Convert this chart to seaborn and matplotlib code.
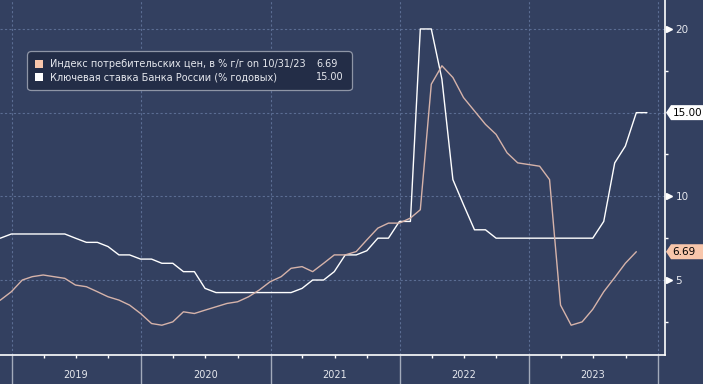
import matplotlib
matplotlib.use("Agg")
import matplotlib.pyplot as plt
import matplotlib.dates as mdates
import matplotlib.transforms as mtransforms
from matplotlib.patches import Patch, Polygon
from matplotlib.ticker import FixedLocator, FuncFormatter
import seaborn as sns
import numpy as np
import pandas as pd

# monthly values, month-end dates
cpi_start = "2018-10-31"
cpi = [3.5, 3.8, 4.3,
       5.0, 5.2, 5.3, 5.2, 5.1, 4.7, 4.6, 4.3, 4.0, 3.8, 3.5, 3.0,
       2.4, 2.3, 2.5, 3.1, 3.0, 3.2, 3.4, 3.6, 3.7, 4.0, 4.4, 4.9,
       5.2, 5.7, 5.8, 5.5, 6.0, 6.5, 6.5, 6.7, 7.4, 8.1, 8.4, 8.4,
       8.7, 9.2, 16.7, 17.8, 17.1, 15.9, 15.1, 14.3, 13.7, 12.6, 12.0, 11.9,
       11.8, 11.0, 3.5, 2.3, 2.5, 3.25, 4.3, 5.15, 6.0, 6.69]
rate_start = "2018-10-31"
rate = [7.5, 7.5, 7.75,
        7.75, 7.75, 7.75, 7.75, 7.75, 7.5, 7.25, 7.25, 7.0, 6.5, 6.5, 6.25,
        6.25, 6.0, 6.0, 5.5, 5.5, 4.5, 4.25, 4.25, 4.25, 4.25, 4.25, 4.25,
        4.25, 4.25, 4.5, 5.0, 5.0, 5.5, 6.5, 6.5, 6.75, 7.5, 7.5, 8.5,
        8.5, 20.0, 20.0, 17.0, 11.0, 9.5, 8.0, 8.0, 7.5, 7.5, 7.5, 7.5,
        7.5, 7.5, 7.5, 7.5, 7.5, 7.5, 8.5, 12.0, 13.0, 15.0, 15.0]

cpi_label = "Индекс потребительских цен, в % г/г on 10/31/23"
rate_label = "Ключевая ставка Банка России (% годовых)"
cpi_last = "6.69"
rate_last = "15.00"
y_major = [5, 10, 15, 20]
y_minor = [2.5, 7.5, 12.5, 17.5]

bg = "#334060"
grid_c = "#5b6d93"
cpi_line = "#d6b3aa"
cpi_patch = "#f8c6ab"
txt_c = "#e6e8ee"

cpi_df = pd.DataFrame({"date": pd.date_range(cpi_start, periods=len(cpi), freq="ME"), "v": cpi})
rate_df = pd.DataFrame({"date": pd.date_range(rate_start, periods=len(rate), freq="ME"), "v": rate})

sns.set_style("dark", {"axes.facecolor": bg, "figure.facecolor": bg})
plt.rcParams["font.family"] = ["DejaVu Sans"]

fig = plt.figure(figsize=(7.03, 3.84), dpi=100)
ax = fig.add_axes([0, 29 / 384, 665 / 703, 355 / 384])

sns.lineplot(data=rate_df, x="date", y="v", ax=ax, color="white", linewidth=1.0)
sns.lineplot(data=cpi_df, x="date", y="v", ax=ax, color=cpi_line, linewidth=1.0)

ax.set_xlim(pd.Timestamp("2018-11-29"), pd.Timestamp("2024-01-20"))
ax.set_ylim(0.52, 21.73)
ax.set_xlabel("")
ax.set_ylabel("")

for s in ["top", "left"]:
    ax.spines[s].set_visible(False)
for s in ["right", "bottom"]:
    ax.spines[s].set_visible(True)
    ax.spines[s].set_color("white")
    ax.spines[s].set_linewidth(1.2)

# x axis: year separators + quarter ticks, year names mid-year
ax.xaxis.set_major_locator(mdates.YearLocator())
ax.xaxis.set_major_formatter(FuncFormatter(lambda x, p: ""))
ax.xaxis.set_minor_locator(mdates.MonthLocator(bymonth=[4, 7, 10]))
ax.xaxis.set_minor_formatter(FuncFormatter(
    lambda x, p: str(mdates.num2date(x).year) if mdates.num2date(x).month == 7 else ""))
ax.tick_params(axis="x", which="major", bottom=True, length=21, width=1, color="#a3abbb",
               direction="out")
ax.tick_params(axis="x", which="minor", bottom=True, length=2.2, width=1, color="white",
               direction="out", pad=8.5, labelsize=7, labelcolor=txt_c)

# y axis on the right
ax.yaxis.tick_right()
ax.yaxis.set_major_locator(FixedLocator(y_major))
ax.yaxis.set_minor_locator(FixedLocator(y_minor))
ax.yaxis.set_major_formatter(FuncFormatter(lambda v, p: "" if v == 15 else f"{v:g}"))
ax.tick_params(axis="y", which="major", right=True, length=0, pad=7.5, labelsize=7.5,
               labelcolor=txt_c)
ax.tick_params(axis="y", which="minor", right=True, length=2.2, width=1, color="white",
               direction="out")

ax.grid(True, which="major", axis="both", color=grid_c, linestyle=(0, (2, 2)), linewidth=0.8)

# arrow markers at the major y ticks (15 is covered by its value tag)
arrow_ticks = [v for v in y_major if v != 15]
tri = mtransforms.offset_copy(mtransforms.blended_transform_factory(ax.transAxes, ax.transData),
                              fig=fig, x=3.5, units="dots")
ax.plot([1] * len(arrow_ticks), arrow_ticks, transform=tri, marker=">", ms=5, color="white",
        linestyle="", clip_on=False)

# value tags
tag_tr = mtransforms.blended_transform_factory(fig.transFigure, ax.transData)
h = 7.5 / 16.73
for v, s, c in [(rate[-1], rate_last, "white"), (cpi[-1], cpi_last, cpi_patch)]:
    poly = Polygon([(666 / 703, v), (671 / 703, v + h), (1.0, v + h), (1.0, v - h), (671 / 703, v - h)],
                   closed=True, transform=tag_tr, facecolor=c, edgecolor="none",
                   clip_on=False, zorder=5)
    ax.add_patch(poly)
    ax.text(672.5 / 703, v, s, transform=tag_tr, ha="left", va="center", fontsize=7.5,
            color="black", zorder=6, clip_on=False)

# legend
handles = [Patch(facecolor=cpi_patch, edgecolor="none"), Patch(facecolor="white", edgecolor="none"),
           Patch(alpha=0), Patch(alpha=0)]
labels = [cpi_label, rate_label, cpi_last, rate_last]
leg = ax.legend(handles, labels, ncol=2, loc="upper left", bbox_to_anchor=(27 / 665, 304 / 355),
                borderaxespad=0, fontsize=7, frameon=True, fancybox=True, handlelength=0.8,
                handleheight=0.8, handletextpad=0.7, columnspacing=-0.4, labelspacing=0.3,
                borderpad=0.85, facecolor="#232d47", edgecolor="#8e95a6", framealpha=1)
leg.get_frame().set_linewidth(0.9)
leg.get_frame().set_boxstyle("round,pad=0,rounding_size=0.4")
for t in leg.get_texts():
    t.set_color(txt_c)

fig.savefig("out.png", dpi=100, facecolor=bg)
